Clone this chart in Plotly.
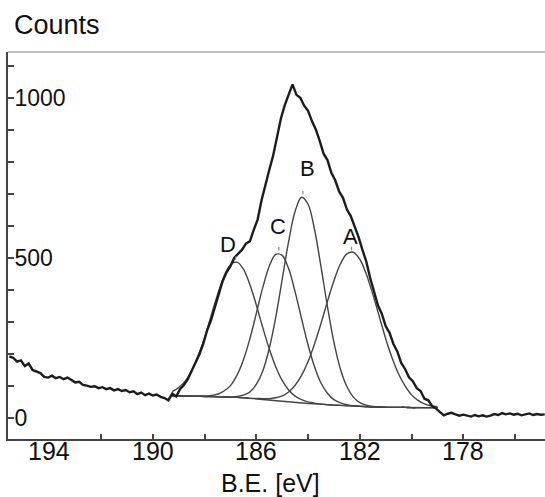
import numpy as np
import plotly.graph_objects as go

be_start = 195.55   # eV, first sample
be_step = 0.15      # eV between samples
counts = [
    192, 188, 176, 180, 162, 170, 150, 146, 140, 128,
    126, 132, 124, 128, 121, 126, 118, 111, 113, 103,
    101, 97, 99, 93, 96, 90, 93, 86, 90, 84,
    87, 80, 83, 74, 79, 71, 76, 70, 73, 66,
    62, 55, 76, 67, 90, 103, 121, 147, 168, 199,
    232, 274, 306, 349, 384, 428, 455, 474, 501, 513,
    526, 545, 552, 588, 620, 680, 730, 775, 820, 877,
    936, 978, 1008, 1043, 1010, 1001, 976, 960, 928, 902,
    866, 826, 806, 766, 743, 708, 688, 652, 631, 598,
    566, 526, 489, 438, 397, 352, 326, 287, 266, 231,
    208, 172, 153, 127, 115, 93, 84, 60, 55, 37,
    29, 18, 8, 13, 16, 11, 7, 10, 6, 4,
    9, 5, 8, 4, 7, 12, 9, 15, 11, 14,
    10, 13, 8, 11, 14, 9, 12, 10, 11,
]
be = np.round(be_start - be_step * np.arange(len(counts)), 2)

# ---------------- fitted components ----------------
fit_be = [189.25, 189.00, 188.75, 188.50, 188.25, 188.00, 187.75, 187.50, 187.25, 187.00,
          186.75, 186.50, 186.25, 186.00, 185.75, 185.50, 185.25, 185.00, 184.75, 184.50,
          184.25, 184.00, 183.75, 183.50, 183.25, 183.00, 182.75, 182.50, 182.25, 182.00,
          181.75, 181.50, 181.25, 181.00, 180.75, 180.50, 180.25, 180.00, 179.75, 179.50,
          179.25, 179.00]
baseline = [69, 69, 68, 68, 68, 67, 67, 66, 66, 65,
            64, 63, 61, 60, 58, 56, 54, 52, 50, 48,
            47, 45, 44, 42, 41, 40, 39, 38, 37, 36,
            35, 34, 34, 33, 33, 33, 33, 32, 32, 32,
            32, 32]
# heights above the background
peak_D = [13, 26, 47, 80, 126, 184, 252, 319, 377, 414,
          423, 402, 356, 293, 224, 160, 106, 65, 37, 20,
          10, 5, 2, 1, 0, 0, 0, 0, 0, 0,
          0, 0, 0, 0, 0, 0, 0, 0, 0, 0,
          0, 0]
peak_C = [0, 0, 0, 0, 0, 1, 3, 8, 18, 36,
          69, 118, 186, 267, 350, 418, 457, 456, 416, 346,
          263, 183, 116, 67, 36, 17, 8, 3, 1, 0,
          0, 0, 0, 0, 0, 0, 0, 0, 0, 0,
          0, 0]
peak_B = [0, 0, 0, 0, 0, 0, 0, 0, 0, 0,
          3, 8, 20, 45, 89, 161, 260, 381, 502, 598,
          643, 623, 545, 431, 307, 197, 114, 60, 28, 12,
          5, 2, 0, 0, 0, 0, 0, 0, 0, 0,
          0, 0]
peak_A = [0, 0, 0, 0, 0, 0, 0, 0, 0, 0,
          0, 0, 0, 1, 2, 4, 9, 17, 31, 54,
          86, 131, 187, 253, 323, 389, 442, 475, 481, 460,
          415, 353, 284, 215, 154, 104, 67, 40, 23, 12,
          6, 3]

# peak labels
label_text = ["D", "C", "B", "A"]
label_be = [187.08, 185.15, 184.03, 182.37]
label_counts = [541, 597, 781, 566]
peak_center = [186.80, 185.13, 184.20, 182.32]
peak_top = [488, 517, 692, 518]

# axis ticks
x_tickvals = [194, 192, 190, 188, 186, 184, 182, 180, 178, 176]
x_labelvals = [194, 190, 186, 182, 178]
x_labeltext = ["194", "190", "186", "182", "178"]
y_tickvals = [0, 100, 200, 300, 400, 500, 600, 700, 800, 900, 1000, 1100]
y_ticktext = ["0", "", "", "", "", "500", "", "", "", "", "1000", ""]

FONT = "Liberation Sans, Arial, Helvetica, sans-serif"
comp_color = "#444444"

fig = go.Figure()
base_arr = np.array(baseline)
fig.add_trace(go.Scatter(x=fit_be, y=baseline, mode="lines",
                         line=dict(color=comp_color, width=1.4), hoverinfo="skip"))
for prof in (peak_D, peak_C, peak_B, peak_A):
    fig.add_trace(go.Scatter(x=fit_be, y=base_arr + np.array(prof), mode="lines",
                             line=dict(color=comp_color, width=1.4, shape="spline", smoothing=1.0),
                             hoverinfo="skip"))
fig.add_trace(go.Scatter(x=be, y=counts, mode="lines",
                         line=dict(color="#1c1c1c", width=2.4)))

annotations = []
for t, xb, yc in zip(label_text, label_be, label_counts):
    annotations.append(dict(x=xb, y=yc, xref="x", yref="y", text=t, showarrow=False,
                            font=dict(family=FONT, size=22, color="#111")))
for xc, yt in zip(peak_center, peak_top):
    annotations.append(dict(x=xc, y=yt, xref="x", yref="y", text="", showarrow=True,
                            arrowhead=0, arrowwidth=1.2, arrowcolor="#888",
                            ax=0, ay=-7, standoff=2))
# x tick labels
for v, t in zip(x_labelvals, x_labeltext):
    annotations.append(dict(x=v, y=0, xref="x", yref="paper", text=t, showarrow=False,
                            xanchor="center", yanchor="top", yshift=4,
                            font=dict(family=FONT, size=25, color="#111")))
# axis titles
annotations.append(dict(x=262 / 537, y=-44 / 387, xref="paper", yref="paper", text="B.E. [eV]",
                        showarrow=False, xanchor="center", yanchor="middle",
                        font=dict(family=FONT, size=25, color="#111")))
annotations.append(dict(x=4 / 537, y=1.07, xref="paper", yref="paper", text="Counts",
                        showarrow=False, xanchor="left", yanchor="middle",
                        font=dict(family=FONT, size=27, color="#111")))

fig.update_layout(
    width=545, height=497,
    margin=dict(l=8, r=0, t=52, b=58),
    paper_bgcolor="white", plot_bgcolor="white",
    showlegend=False,
    annotations=annotations,
    shapes=[dict(type="line", xref="paper", yref="paper", x0=0, x1=1, y0=1, y1=1,
                 line=dict(color="#aaaaaa", width=1.5))],
    xaxis=dict(range=[195.6, 174.84], tickvals=x_tickvals, showticklabels=False,
               ticks="inside", ticklen=5, tickwidth=1.5, tickcolor="#444",
               showline=True, linecolor="#444", linewidth=2,
               showgrid=False, zeroline=False),
    yaxis=dict(range=[-66, 1144], tickvals=y_tickvals, ticktext=y_ticktext,
               ticks="inside", ticklen=6, tickwidth=1.5, tickcolor="#444",
               ticklabelposition="inside", ticklabelstandoff=2,
               showline=True, linecolor="#444", linewidth=2,
               showgrid=False, zeroline=False,
               tickfont=dict(family=FONT, size=23, color="#111")),
)

fig.write_html("out.html")
